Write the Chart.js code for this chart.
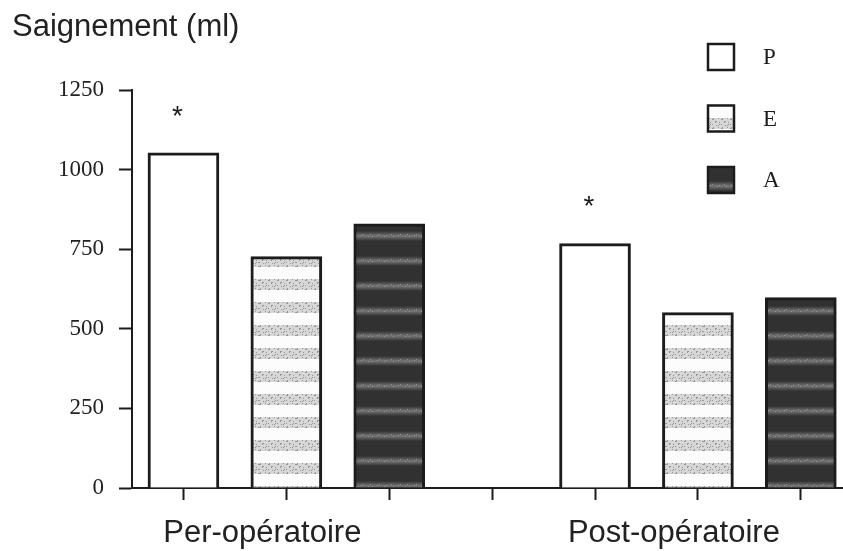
<!DOCTYPE html>
<html>
<head>
<meta charset="utf-8">
<script src="https://cdn.jsdelivr.net/npm/chart.js@4.4.1/dist/chart.umd.min.js"></script>
<style>
  html,body{margin:0;padding:0;background:#fff;overflow:hidden}
  #wrap{width:843px;height:551px}
</style>
</head>
<body>
<div id="wrap"><canvas id="c" width="843" height="551"></canvas></div>
<script>
// values (ml)
const groups = ['Per-opératoire', 'Post-opératoire'];
const seriesNames = ['P', 'E', 'A'];
const valuesP = [1053, 768];
const valuesE = [727, 551];
const valuesA = [830, 598];
const starsP = ['*', '*'];          // significance marks above P bars
const yTicks = [0, 250, 500, 750, 1000, 1250];
const xSlots = [1, 2, 3, 4, 5, 6, 7]; // 3 bars, empty slot, 3 bars

const SANS = '"Liberation Sans", Arial, sans-serif';
const SERIF = '"Liberation Serif", "Times New Roman", serif';
const INK = '#1c1c1c';

// scanned-looking fills
function speckle(){
  const t = document.createElement('canvas'); t.width = 37; t.height = 23;
  const g = t.getContext('2d');
  g.fillStyle = '#fcfcfc'; g.fillRect(0, 0, 37, 23);
  g.fillStyle = 'rgba(160,160,160,0.4)'; g.fillRect(0, 3, 37, 11);
  for (let x = 0; x < 37; x++)
    for (let y = 3; y < 15; y++)
      if ((x * 13 + y * 7 + x * y) % 9 < 2) { g.fillStyle = 'rgba(100,100,100,0.55)'; g.fillRect(x, y, 1, 1); }
  return g.createPattern(t, 'repeat');
}
function streaks(){
  const t = document.createElement('canvas'); t.width = 37; t.height = 25;
  const g = t.getContext('2d');
  g.fillStyle = '#313131'; g.fillRect(0, 0, 37, 25);
  const gr = g.createLinearGradient(0, 6, 0, 16);
  gr.addColorStop(0, '#313131'); gr.addColorStop(0.5, '#767676'); gr.addColorStop(1, '#313131');
  g.fillStyle = gr; g.fillRect(0, 6, 37, 10);
  for (let x = 0; x < 37; x++)
    if ((x * 11) % 7 < 2) { g.fillStyle = 'rgba(180,180,180,0.6)'; g.fillRect(x, 10 + (x % 3) - 1, 1, 1); }
  return g.createPattern(t, 'repeat');
}

const slot = (g, i) => xSlots[g * 4 + i];
const toPts = (vals, i) => vals.map((v, g) => ({x: slot(g, i), y: v}));

const extras = {
  id: 'extras',
  afterDatasetsDraw(chart){
    const {ctx} = chart;
    ctx.save();
    // asterisks above P bars
    ctx.fillStyle = INK; ctx.font = '28px ' + SANS;
    ctx.textAlign = 'center'; ctx.textBaseline = 'middle';
    chart.getDatasetMeta(0).data.forEach((bar, g) => {
      ctx.fillText(starsP[g], bar.x - 6, bar.y - 36);
    });
    // legend, stacked vertically at top right
    chart.data.datasets.forEach((ds, i) => {
      const y = 43 + i * 61.5;
      ctx.fillStyle = ds.backgroundColor;
      ctx.fillRect(707, y, 28, 28);
      ctx.lineWidth = 2.5; ctx.strokeStyle = INK;
      ctx.strokeRect(708, y + 1, 26, 26);
      ctx.fillStyle = INK; ctx.font = '23px ' + SERIF;
      ctx.textAlign = 'left';
      ctx.fillText(ds.label, 763, y + 15);
    });
    ctx.restore();
  }
};

new Chart(document.getElementById('c'), {
  type: 'bar',
  data: {
    datasets: [
      {label: seriesNames[0], data: toPts(valuesP, 0), backgroundColor: '#ffffff'},
      {label: seriesNames[1], data: toPts(valuesE, 1), backgroundColor: speckle()},
      {label: seriesNames[2], data: toPts(valuesA, 2), backgroundColor: streaks()}
    ].map(d => Object.assign(d, {borderColor: INK, borderWidth: 3, grouped: false, barThickness: 71}))
  },
  options: {
    responsive: false, animation: false,
    layout: {padding: {left: 12, right: 0, top: 0, bottom: 0}},
    plugins: {
      legend: {display: false}, tooltip: {enabled: false},
      title: {display: true, text: 'Saignement (ml)', align: 'start', color: '#222',
              font: {family: SANS, size: 31, weight: 'normal'}, padding: {top: 9, bottom: 44}}
    },
    scales: {
      x: {
        type: 'linear', min: 0.5, max: 7.41, offset: false,
        afterBuildTicks: s => { s.ticks = xSlots.map(v => ({value: v})); },
        afterFit: s => { s.height = 63; },
        grid: {drawOnChartArea: false, drawTicks: true, tickLength: 12, tickWidth: 2, tickColor: INK, offset: false},
        border: {display: true, color: INK, width: 2},
        ticks: {
          autoSkip: false, maxRotation: 0, minRotation: 0, labelOffset: -24, padding: 15,
          color: '#222', font: {family: SANS, size: 31},
          callback: v => v === 2 ? groups[0] : v === 6 ? groups[1] : ''
        }
      },
      y: {
        min: 0, max: 1250,
        afterBuildTicks: s => { s.ticks = yTicks.map(v => ({value: v})); },
        afterFit: s => { s.width = 120; },
        grid: {drawOnChartArea: false, drawTicks: true, tickLength: 13, tickWidth: 2, tickColor: INK},
        border: {display: true, color: INK, width: 2},
        ticks: {padding: 15, color: '#222', font: {family: SERIF, size: 23}, callback: v => String(v)}
      }
    }
  },
  plugins: [extras]
});
</script>
</body>
</html>
